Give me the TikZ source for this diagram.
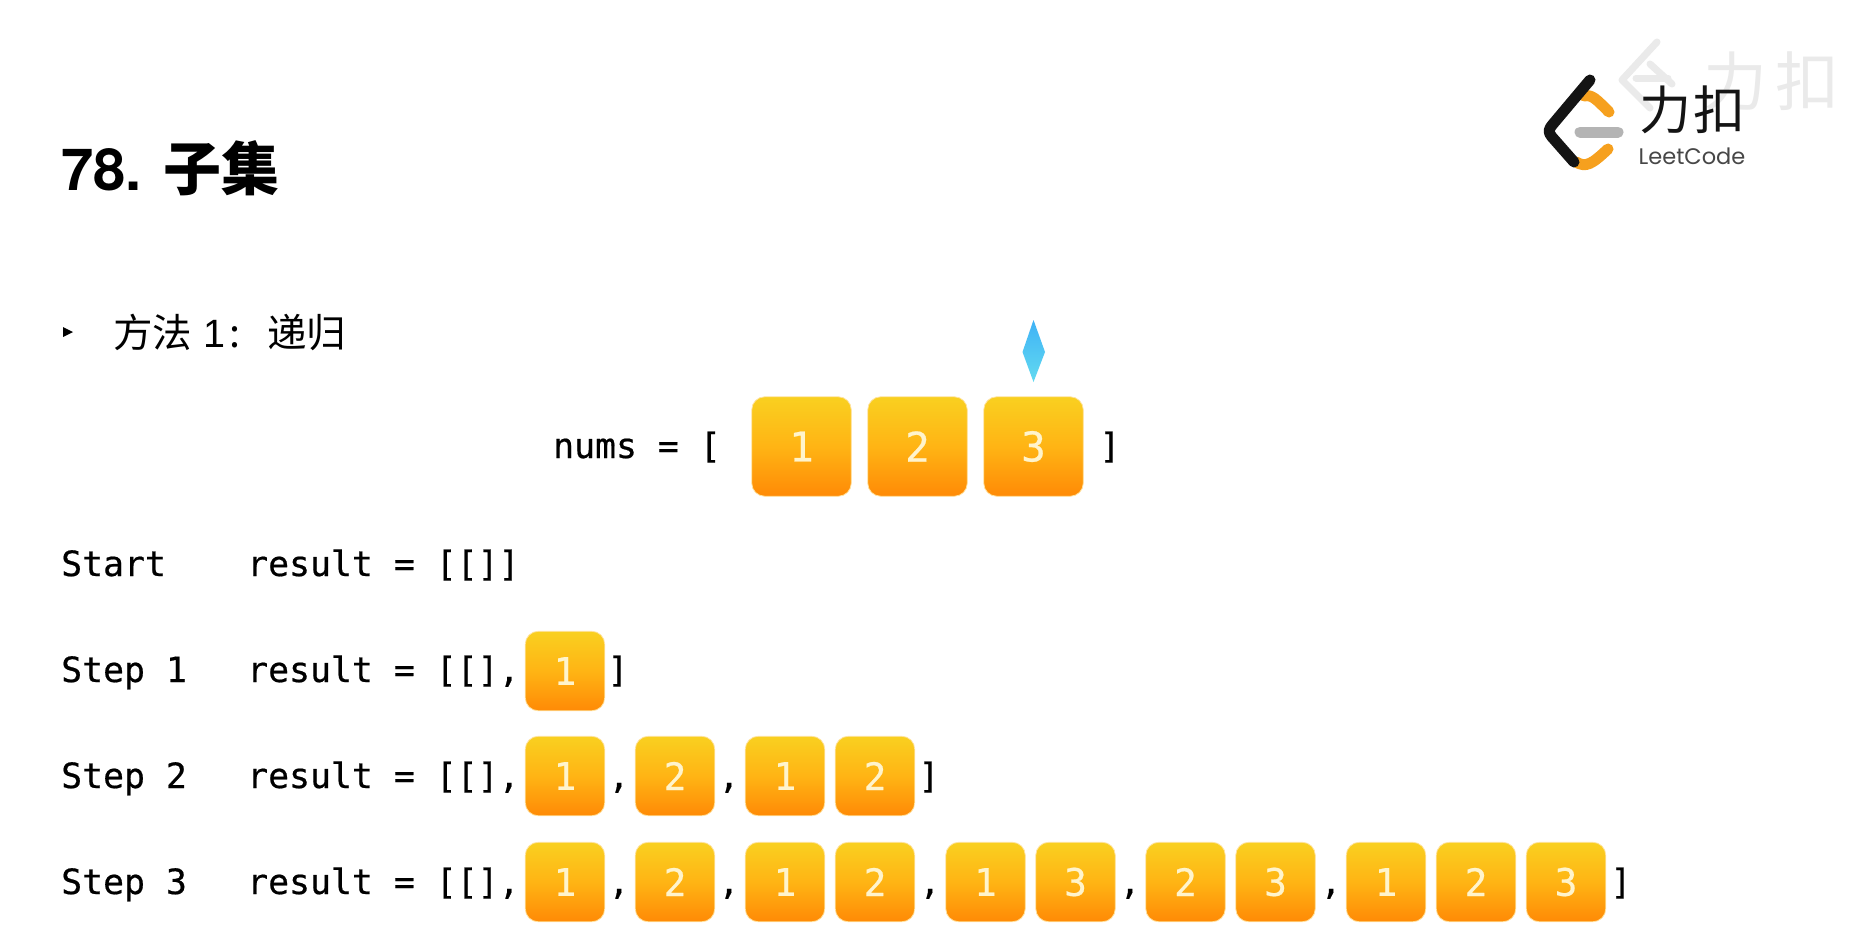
\documentclass[tikz,border=0pt]{standalone}
\usepackage{fontspec}
\setmainfont{Liberation Sans}
\setmonofont{DejaVu Sans Mono}
\newfontfamily\codefont[FakeBold=0.5]{DejaVu Sans Mono}
\newfontfamily\cjk{Noto Sans CJK SC}
\newfontfamily\logofont{Poppins}
\newfontfamily\hvbold{TeX Gyre Heros}
\definecolor{boxtop}{HTML}{F9D020}
\definecolor{boxmid}{HTML}{FFB414}
\definecolor{boxbot}{HTML}{FF8A06}
\definecolor{boxrim}{HTML}{FFE3A0}
\definecolor{digit}{HTML}{FFF4CC}
\definecolor{logoorange}{HTML}{F6A01E}
\definecolor{logogray}{HTML}{B4B4B4}
\definecolor{logoink}{HTML}{141414}
\definecolor{ghost}{HTML}{EAEAEA}
\definecolor{gemtop}{HTML}{3FB2F6}
\definecolor{gembot}{HTML}{62DAF0}
\newcommand{\fs}[1]{\fontsize{#1}{#1}\selectfont}
\tikzset{
  x=1pt,y=-1pt,
  cell/.style={rounded corners=13pt,inner sep=0pt,top color=boxtop,bottom color=boxbot,middle color=boxmid,
    draw=boxrim,line width=0.8pt,text=digit},
  bigcell/.style={cell,minimum width=99.5pt,minimum height=99.5pt,font=\codefont\fs{41}},
  smallcell/.style={cell,minimum width=79.5pt,minimum height=79.5pt,font=\codefont\fs{38}},
  codetext/.style={anchor=base west,inner sep=0pt,font=\codefont\fs{34.8},text=black},
  punct/.style={anchor=base,inner sep=0pt,font=\codefont\fs{34.8},text=black},
  logostroke/.style={line width=11pt,line cap=round,line join=round},
  ghoststroke/.style={line width=7pt,line cap=round,line join=round,draw=ghost},
  ghosttext/.style={inner sep=0pt,text=ghost,font=\cjk\fs{64}},
}
\begin{document}
\begin{tikzpicture}
\useasboundingbox[fill=white] (0,0) rectangle (1862,948);

% title
\node[anchor=base west,inner sep=0pt,font=\fs{58}] (title) at (61,190)
  {\hvbold\bfseries 78.\hspace{22pt}{\cjk\bfseries\fs{58}子集}};

% bullet
\fill (63,327) -- (73,332) -- (63,337) -- cycle;
\node[anchor=base west,inner sep=0pt,font=\fs{39.5}] (method) at (113,347)
  {{\cjk 方法}\hspace{11pt}1{\cjk\hspace{4pt}:}\hspace{27pt}{\cjk 递归}};

% watermark
\draw[ghoststroke] (1657,42) -- (1622,80) -- (1650,108);
\draw[ghoststroke] (1650,64) -- (1672,84);
\draw[ghoststroke] (1636,78) -- (1668,78);
\node[ghosttext] (wma) at (1735,81) {力};
\node[ghosttext] (wmb) at (1807,81) {扣};

% logo
\draw[logostroke,draw=logoorange] (1584,96) .. controls (1592,94) and (1597,100) .. (1609,112);
\draw[logostroke,draw=logoorange] (1576,162) .. controls (1586,168) and (1592,164) .. (1608,149);
\draw[logostroke,draw=logogray] (1580,132) -- (1618,132);
\draw[logostroke,draw=logoink] (1590,80) -- (1553,124) .. controls (1548,130) and (1548,132) .. (1552,137) -- (1574,162);
\node[inner sep=0pt,font=\cjk\fs{52},text=logoink,anchor=center] (litou) at (1692,110) {力\hspace{2pt}扣};
\node[inner sep=0pt,font=\logofont\fs{22.5},text=black!72,anchor=center] (lname) at (1692,156) {LeetCode};

% nums row
\node[codetext] (numslabel) at (553,458) {nums = [};
\node[bigcell] (n1) at (801.5,446.5) {1};
\node[bigcell] (n2) at (917.5,446.5) {2};
\node[bigcell] (n3) at (1033.5,446.5) {3};
\node[punct] (numsend) at (1110,458) {]};

% pointer
\shade[top color=gemtop,bottom color=gembot]
  (1033.5,320) -- (1045,352) -- (1033.5,382) -- (1022.5,352) -- cycle;

% start
\node[codetext] (startlabel) at (61,576) {Start};
\node[codetext] (startres) at (247,576) {result = [[]]};

% step 1
\node[codetext] (s1label) at (61,682) {Step 1};
\node[codetext] (s1res) at (247,682) {result = [[],};
\node[smallcell] (a1) at (565,671) {1};
\node[punct] (s1end) at (618,682) {]};

% step 2
\node[codetext] (s2label) at (61,788) {Step 2};
\node[codetext] (s2res) at (247,788) {result = [[],};
\node[smallcell] (b1) at (565,776) {1};
\node[punct] (bc1) at (619,788) {,};
\node[smallcell] (b2) at (675,776) {2};
\node[punct] (bc2) at (729,788) {,};
\node[smallcell] (b3) at (785,776) {1};
\node[smallcell] (b4) at (875,776) {2};
\node[punct] (s2end) at (929,788) {]};

% step 3
\node[codetext] (s3label) at (61,894) {Step 3};
\node[codetext] (s3res) at (247,894) {result = [[],};
\node[smallcell] (c1) at (565,882) {1};
\node[punct] (cc1) at (619,894) {,};
\node[smallcell] (c2) at (675,882) {2};
\node[punct] (cc2) at (729,894) {,};
\node[smallcell] (c3) at (785,882) {1};
\node[smallcell] (c4) at (875,882) {2};
\node[punct] (cc3) at (930,894) {,};
\node[smallcell] (c5) at (985.5,882) {1};
\node[smallcell] (c6) at (1075.5,882) {3};
\node[punct] (cc4) at (1130,894) {,};
\node[smallcell] (c7) at (1185.5,882) {2};
\node[smallcell] (c8) at (1275.5,882) {3};
\node[punct] (cc5) at (1331,894) {,};
\node[smallcell] (c9) at (1386,882) {1};
\node[smallcell] (c10) at (1476,882) {2};
\node[smallcell] (c11) at (1566,882) {3};
\node[punct] (s3end) at (1621,894) {]};
\end{tikzpicture}
\end{document}
